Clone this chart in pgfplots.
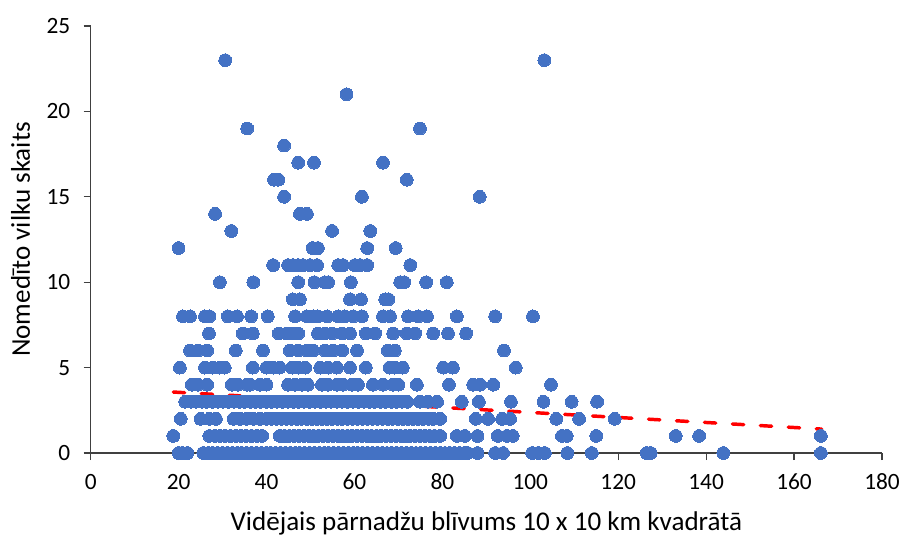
\documentclass[border=0pt]{standalone}
\usepackage{fontspec}
\setmainfont{Carlito}
\usepackage{pgfplots}
\pgfplotsset{compat=1.18}
\definecolor{dots}{HTML}{4472C4}
\definecolor{axisgrey}{HTML}{404040}

\begin{document}
\begin{tikzpicture}
\path[use as bounding box] (-68pt,-62.25pt) rectangle (610pt,339.75pt);
\begin{axis}[
  at={(0pt,0pt)}, anchor=origin,
  scale only axis, width=593.5pt, height=320.25pt,
  xmin=0, xmax=180, ymin=0, ymax=25,
  xtick={0,20,...,180}, ytick={0,5,...,25},
  axis lines=left,
  axis line style={-,axisgrey,line width=0.9pt},
  tick align=outside, tick pos=left,
  major tick length=5.25pt,
  tick style={axisgrey,line width=0.9pt},
  clip=false,
  /pgf/number format/assume math mode=true,
  ticklabel style={font=\fontsize{17.5}{20}\selectfont,text=black},
  xticklabel style={yshift=-7pt},
  yticklabel style={xshift=-6.5pt},
  label style={font=\fontsize{20.3}{23}\selectfont,text=black},
  xlabel={Vidējais pārnadžu blīvums 10 x 10 km kvadrātā},
  ylabel={Nomedīto vilku skaits},
  xlabel style={at={(0.5,-0.181)},anchor=base},
  ylabel style={at={(-0.0767,0.5)},anchor=base},
]
\addplot+[only marks, mark=*, mark size=4.8pt, mark options={fill=dots,draw=dots,line width=0pt}]
coordinates {
(30.6,23)(103.2,23)
(58.2,21)
(35.6,19)(74.9,19)
(44,18)
(47.2,17)(50.8,17)(66.5,17)
(41.7,16)(42.7,16)(71.9,16)
(44,15)(61.7,15)(88.5,15)
(28.3,14)(47.6,14)(49.2,14)
(32,13)(54.9,13)(63.6,13)
(20,12)(50.5,12)(51.7,12)(62.9,12)(69.4,12)
(41.5,11)(44.9,11)(46,11)(47.2,11)(48.3,11)(49.9,11)(51.5,11)(56.3,11)(57.4,11)(60.1,11)(61.3,11)(62.9,11)(72.7,11)
(29.4,10)(37,10)(47.2,10)(50.9,10)(53.3,10)(54,10)(59.2,10)(70.4,10)(71.3,10)(76.3,10)(81,10)
(46,9)(47.6,9)(59,9)(61.5,9)(67,9)(67.7,9)
(21,8)(22.6,8)(26,8)(27,8)(31.2,8)(33.3,8)(36.5,8)(40.3,8)(46.5,8)(49.2,8)(50.6,8)(51.7,8)(53.8,8)(56.3,8)(57.8,8)(59.7,8)(61.7,8)(66.5,8)(68.1,8)(72.2,8)(74.5,8)(76.5,8)(83.3,8)(92,8)(100.6,8)
(26.9,7)(34.6,7)(36.9,7)(42.8,7)(44.6,7)(45.8,7)(47.2,7)(51.7,7)(53.3,7)(54.9,7)(57.2,7)(59,7)(62.6,7)(64.7,7)(68.8,7)(71.9,7)(73.8,7)(77.9,7)(81.3,7)(85.4,7)
(22.6,6)(24.4,6)(26.5,6)(33,6)(39.2,6)(45.3,6)(47.2,6)(49.2,6)(50.6,6)(53.3,6)(55.1,6)(57.2,6)(60.6,6)(67.6,6)(69.2,6)(94,6)
(20.3,5)(26,5)(27.8,5)(29.4,5)(30.5,5)(36.9,5)(40,5)(41.5,5)(43,5)(45.8,5)(47.2,5)(48.8,5)(52.2,5)(54,5)(56,5)(59,5)(62.6,5)(68,5)(69.2,5)(71,5)(80.2,5)(82.4,5)(96.7,5)
(23,4)(24.4,4)(26.5,4)(32.1,4)(33.5,4)(35.6,4)(36.2,4)(38.5,4)(40,4)(44.9,4)(46.5,4)(48.1,4)(49.4,4)(52.6,4)(54,4)(56,4)(57.4,4)(59.4,4)(60.8,4)(64.2,4)(66.5,4)(68.8,4)(70,4)(74.2,4)(81.5,4)(87,4)(88.6,4)(91.6,4)(104.7,4)
(21.5,3)(22.8,3)(24,3)(25.3,3)(26.4,3)(27.7,3)(29,3)(30.1,3)(31.4,3)(32.6,3)(33.9,3)(35,3)(36.3,3)(37.5,3)(38.7,3)(40,3)(41.2,3)(42.4,3)(43.7,3)(44.9,3)(46.2,3)(47.3,3)(48.5,3)(49.8,3)(51,3)(52.3,3)(53.5,3)(54.7,3)(56,3)(57.2,3)(58.4,3)(59.7,3)(60.9,3)(62.2,3)(63.4,3)(64.6,3)(65.9,3)(67.1,3)(68.4,3)(69.6,3)(70.8,3)(72,3)(74.9,3)(76.7,3)(78.8,3)(84.4,3)(88.3,3)(95.6,3)(103,3)(109.4,3)(115.2,3)
(20.5,2)(25,2)(27,2)(28.5,2)(32.5,2)(34,2)(35.5,2)(37,2)(38.5,2)(40,2)(41.1,2)(42.3,2)(43.4,2)(44.6,2)(45.7,2)(46.9,2)(48,2)(49.2,2)(50.3,2)(51.5,2)(52.6,2)(53.8,2)(54.9,2)(56.1,2)(57.2,2)(58.4,2)(59.5,2)(60.7,2)(61.8,2)(63,2)(64.1,2)(65.3,2)(66.4,2)(67.6,2)(68.7,2)(69.9,2)(71,2)(72.2,2)(73.3,2)(74.5,2)(75.6,2)(76.8,2)(77.9,2)(79.5,2)(87.6,2)(90.4,2)(93.6,2)(95.4,2)(105.9,2)(111.1,2)(119.2,2)
(18.8,1)(27,1)(28.2,1)(29.4,1)(30.6,1)(31.8,1)(33,1)(34.2,1)(35.4,1)(36.6,1)(37.8,1)(39,1)(43,1)(44.1,1)(45.2,1)(46.3,1)(47.4,1)(48.5,1)(49.6,1)(50.7,1)(51.8,1)(52.9,1)(54,1)(55.1,1)(56.2,1)(57.3,1)(58.4,1)(59.5,1)(60.6,1)(61.7,1)(62.8,1)(63.9,1)(65,1)(66.1,1)(67.2,1)(68.3,1)(69.4,1)(70.5,1)(71.6,1)(72.7,1)(73.8,1)(74.9,1)(76,1)(77.1,1)(78.2,1)(79.5,1)(83.3,1)(85.1,1)(88,1)(92.6,1)(94.7,1)(96,1)(107.2,1)(108.3,1)(115,1)(133.1,1)(138.4,1)(166.1,1)
(20,0)(20.8,0)(22,0)(25.6,0)(26.7,0)(27.8,0)(28.9,0)(30,0)(31.1,0)(32.2,0)(33.3,0)(34.4,0)(35.5,0)(36.6,0)(37.7,0)(38.8,0)(39.9,0)(41,0)(42.1,0)(43.2,0)(44.3,0)(45.4,0)(46.5,0)(47.6,0)(48.7,0)(49.8,0)(50.9,0)(52,0)(53.1,0)(54.2,0)(55.3,0)(56.4,0)(57.5,0)(58.6,0)(59.7,0)(60.8,0)(61.9,0)(63,0)(64.1,0)(65.2,0)(66.3,0)(67.4,0)(68.5,0)(69.6,0)(70.7,0)(71.8,0)(72.9,0)(74,0)(75.1,0)(76.2,0)(77.3,0)(78.4,0)(79.5,0)(80.6,0)(81.7,0)(82.8,0)(83.9,0)(85,0)(85.8,0)(88,0)(92,0)(93.8,0)(100.4,0)(101.8,0)(103.3,0)(108.4,0)(114,0)(126.5,0)(127.4,0)(143.9,0)(166.1,0)
};
\addplot[red, line width=2.6pt, dash pattern=on 8.5pt off 12.5pt, line cap=round]
coordinates {(18.8,3.57)(166.3,1.4)};
\end{axis}
\end{tikzpicture}
\end{document}
